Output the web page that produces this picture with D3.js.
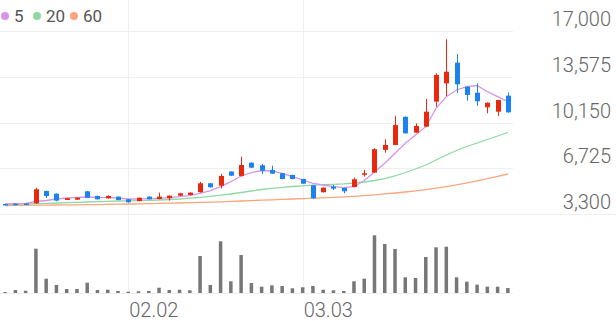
<!DOCTYPE html>
<html>
<head>
<meta charset="utf-8">
<script src="https://cdn.jsdelivr.net/npm/d3@7"></script>
<style>
  body { margin: 0; background: #fff; }
  svg { display: block; font-family: Roboto, "Noto Sans", sans-serif; }
</style>
</head>
<body>
<div id="chart"></div>
<script>
// Trading days (MM.DD)
var dates = ["01.13","01.16","01.17","01.18","01.19","01.20","01.25","01.26","01.27","01.30",
  "01.31","02.01","02.02","02.03","02.06","02.07","02.08","02.09","02.10","02.13",
  "02.14","02.15","02.16","02.17","02.20","02.21","02.22","02.27","02.28","03.03",
  "03.06","03.07","03.08","03.09","03.10","03.13","03.14","03.15","03.16","03.17",
  "03.20","03.21","03.22","03.23","03.24","03.27","03.28","03.29","03.30","03.31"];

var openP  = [4050,4070,4090,4100,5020,4820,4350,4370,5000,4650,4480,4600,4400,4270,4600,4420,4480,4670,4720,4930,
  5600,5420,6480,6150,7140,6950,6600,6350,6220,5920,5450,4930,5350,5250,5320,6240,6400,8100,8470,10580,
  9390,9840,11710,13080,14630,12830,12380,11290,10960,12160];
var highP  = [4060,4110,4100,5270,5050,4850,4500,4540,5030,4680,4700,4620,4420,4540,4620,4900,4690,4870,4920,5700,
  5620,6300,6500,7590,7170,7050,6920,6370,6240,5940,5470,5290,5470,5270,6020,6600,8220,8890,10630,10600,
  10090,11910,13830,16380,15280,12850,13080,11650,11850,12410];
var lowP   = [4000,4020,4020,4080,4500,4250,4340,4360,4500,4380,4450,4330,4150,4250,4380,4400,4300,4650,4700,4900,
  5280,5220,6150,6100,6750,6300,6300,5900,5900,5550,4420,4910,5100,4850,5300,6100,6380,7890,8450,9320,
  9370,9820,11330,12130,12380,11780,11390,10840,10640,10890];
var closeP = [4000,4040,4030,5150,4650,4300,4480,4520,4520,4400,4650,4350,4180,4520,4400,4600,4670,4850,4900,5600,
  5300,6150,6170,6970,6770,6540,6320,5920,5920,5570,4480,5270,5200,5000,5900,6350,8150,8470,9960,9340,
  9890,10960,13710,13950,13010,12210,11740,11630,11830,10910];

// Moving averages
var ma5  = [4049,4072,4102,4236,4311,4424,4498,4551,4573,4551,4521,4498,4424,4424,4446,4476,4521,4596,4671,4850,
  5045,5344,5718,6145,6392,6557,6520,6347,6093,5846,5599,5472,5344,5269,5344,5808,6445,7096,7845,8593,
  9215,9836,11213,12082,12583,12830,12920,12456,12082,11707];
var ma20 = [4012,4027,4049,4072,4102,4124,4147,4177,4199,4221,4251,4274,4289,4304,4326,4349,4386,4424,4483,4551,
  4626,4708,4798,4910,5022,5135,5224,5299,5359,5412,5457,5494,5524,5561,5621,5696,5808,5943,6145,6407,
  6669,6969,7343,7717,8054,8354,8616,8878,9140,9402];
var ma60 = [3937,3944,3952,3959,3967,3974,3982,3989,3997,4004,4019,4034,4049,4064,4079,4094,4109,4124,4147,4169,
  4192,4214,4244,4274,4304,4334,4364,4394,4424,4453,4483,4513,4543,4581,4626,4678,4738,4806,4873,4948,
  5030,5127,5232,5352,5487,5636,5786,5951,6123,6295];

var volume = [10,30,23,443,143,80,40,40,103,30,33,20,13,17,20,53,30,33,27,370,
  80,517,117,380,100,63,77,70,47,57,70,33,27,20,117,143,577,490,440,157,
  150,360,457,463,157,113,83,63,63,50];

var priceTicks = [3300, 6725, 10150, 13575, 17000];
var dateTicks = ["02.02", "03.03"];
var maNames = ["5", "20", "60"];

var W = 616, H = 321;
var plotRight = 513;
var upColor = "#e8290f", downColor = "#1b82f0";
var maColors = ["#d595ea", "#8fd9a2", "#f9a57d"];

var svg = d3.select("#chart").append("svg")
  .attr("width", W)
  .attr("height", H);

var x = d3.scaleBand()
  .domain(d3.range(dates.length))
  .range([0, plotRight]);

var y = d3.scaleLinear()
  .domain([3300, 17000])
  .range([214, 31]);

var yVol = d3.scaleLinear()
  .domain([0, 600])
  .range([293, 233]);

var cx = function (i) { return x(i) + x.bandwidth() / 2; };

// Grid
svg.append("g").selectAll("line")
  .data(priceTicks)
  .enter().append("line")
    .attr("x1", 0)
    .attr("x2", function (d, i) { return i === 0 ? W : plotRight; })
    .attr("y1", function (d) { return Math.round(y(d)) + 0.5; })
    .attr("y2", function (d) { return Math.round(y(d)) + 0.5; })
    .style("stroke", "#efefef")
    .style("stroke-width", 1);

svg.append("g").selectAll("line")
  .data(dateTicks)
  .enter().append("line")
    .attr("x1", function (d) { return Math.round(cx(dates.indexOf(d))) + 0.5; })
    .attr("x2", function (d) { return Math.round(cx(dates.indexOf(d))) + 0.5; })
    .attr("y1", 0)
    .attr("y2", 293)
    .style("stroke", "#efefef");

svg.append("line")
  .attr("x1", 0).attr("x2", plotRight)
  .attr("y1", 293.5).attr("y2", 293.5)
  .style("stroke", "#eeeeee");

// Y labels
svg.append("g").selectAll("text")
  .data(priceTicks)
  .enter().append("text")
    .attr("x", 611)
    .attr("y", function (d) { return y(d) - 5; })
    .attr("text-anchor", "end")
    .style("font-size", "20px")
    .style("font-weight", 300)
    .style("fill", "#666")
    .text(d3.format(","));

// X labels
svg.append("g").selectAll("text")
  .data(dateTicks)
  .enter().append("text")
    .attr("x", function (d) { return cx(dates.indexOf(d)) + 1; })
    .attr("y", 317)
    .attr("text-anchor", "start")
    .style("font-size", "20px")
    .style("font-weight", 300)
    .style("fill", "#666")
    .text(function (d) { return d; });

// Moving average lines
[ma5, ma20, ma60].slice().reverse().forEach(function (series, k) {
  var line = d3.line()
    .x(function (d, i) { return cx(i); })
    .y(function (d) { return y(d); });
  svg.append("path")
    .datum(series)
    .attr("d", line)
    .style("fill", "none")
    .style("stroke", maColors[2 - k])
    .style("stroke-width", 1.3);
});

// Candles
var idx = d3.range(dates.length);
var candle = svg.append("g").selectAll("g")
  .data(idx)
  .enter().append("g");

candle.append("line")
  .attr("x1", function (i) { return Math.round(cx(i)) + 0.5; })
  .attr("x2", function (i) { return Math.round(cx(i)) + 0.5; })
  .attr("y1", function (i) { return y(highP[i]); })
  .attr("y2", function (i) { return y(lowP[i]); })
  .style("stroke", function (i) { return closeP[i] >= openP[i] ? upColor : downColor; })
  .style("stroke-width", 1);

candle.append("rect")
  .attr("x", function (i) { return Math.round(cx(i)) + 0.5 - 2.5; })
  .attr("width", 5)
  .attr("y", function (i) { return y(Math.max(openP[i], closeP[i])); })
  .attr("height", function (i) { return Math.max(1.5, Math.abs(y(openP[i]) - y(closeP[i]))); })
  .style("fill", function (i) { return closeP[i] >= openP[i] ? upColor : downColor; });

// Volume bars
svg.append("g").selectAll("rect")
  .data(volume)
  .enter().append("rect")
    .attr("x", function (d, i) { return cx(i) - 1.75; })
    .attr("width", 3.5)
    .attr("y", function (d) { return yVol(d); })
    .attr("height", function (d) { return 293 - yVol(d); })
    .style("fill", "#777");

// Legend
var legend = svg.append("g");
var lx = [5, 37, 74];
maNames.forEach(function (name, k) {
  legend.append("circle")
    .attr("cx", lx[k])
    .attr("cy", 16)
    .attr("r", 4)
    .style("fill", maColors[k]);
  legend.append("text")
    .attr("x", lx[k] + 3 + 6)
    .attr("y", 22)
    .style("font-size", "17px")
    .style("fill", "#555")
    .text(name);
});
</script>
</body>
</html>
